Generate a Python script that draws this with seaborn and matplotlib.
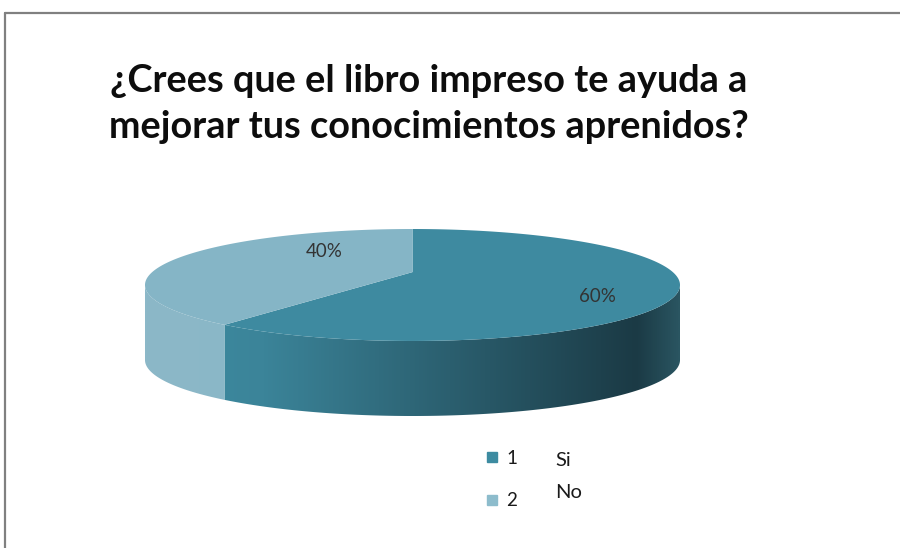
import numpy as np
import matplotlib.pyplot as plt
import matplotlib.colors as mcolors
from matplotlib.patches import Polygon
from matplotlib.lines import Line2D
import seaborn as sns

TITLE = "¿Crees que el libro impreso te ayuda a\nmejorar tus conocimientos aprenidos?"
CATEGORIES = ["1", "2"]
ANSWERS = ["Si", "No"]
PERCENTS = [60, 40]
TOP_COLORS = ["#3e8aa0", "#85b5c6"]
LEGEND_COLORS = ["#3d8ba1", "#8dbccc"]
# side shading for each slice, left -> right across the pie
SIDE_STOPS = [
    [(0.0, "#3e8ca2"), (0.22, "#3b8499"), (0.92, "#1b3a45"), (1.0, "#2a5561")],
    [(0.0, "#8cb8c8"), (1.0, "#82b2c3")],
]
# where Excel put the % labels (pie screen coords, top face = unit ellipse)
LABEL_POS = [(0.69, -0.21), (-0.33, 0.59)]

sns.set_theme(style="white")
plt.rcParams["font.family"] = ["Lato", "DejaVu Sans"]

W, H = 900, 548
fig = plt.figure(figsize=(W / 100, H / 100), dpi=100)
fig.patch.set_facecolor("white")

# pie sits at x 145..680 px, y 229..416 px
ax = fig.add_axes([145 / W, 1 - 416 / H, 535 / W, 187 / H])
DEPTH = 1.34   # side height in units of the top face's vertical radius
TILT = 0.23    # perspective: the pie centre appears pushed back


def project(theta_deg):
    # point on the pie rim -> screen coords (Klein-style perspective boost)
    th = np.radians(theta_deg)
    u, v = np.cos(th), np.sin(th)
    den = 1 + TILT * v
    return u * np.sqrt(1 - TILT ** 2) / den, (v + TILT) / den


cum = np.concatenate([[0], np.cumsum(PERCENTS)]) / np.sum(PERCENTS) * 360
for i in range(len(PERCENTS)):
    t_hi = 90 - cum[i]
    t_lo = 90 - cum[i + 1]
    thetas = np.linspace(t_hi, t_lo, 400)
    xs, ys = project(thetas)

    # top face wedge
    ax.fill(np.r_[0, xs], np.r_[TILT, ys], color=TOP_COLORS[i], lw=0, zorder=2)

    # side wall: the part of the rim in the lower half of the ellipse
    vis = ys <= 0
    if not vis.any():
        continue
    sx, sy = xs[vis], ys[vis]
    order = np.argsort(sx)
    sx, sy = sx[order], sy[order]
    pts = np.concatenate([np.column_stack([sx, sy]),
                          np.column_stack([sx[::-1], sy[::-1] - DEPTH])])
    poly = Polygon(pts, closed=True, facecolor="none", edgecolor="none")
    ax.add_patch(poly)
    cmap = mcolors.LinearSegmentedColormap.from_list(f"side{i}", SIDE_STOPS[i])
    grad = np.linspace(0, 1, 512).reshape(1, -1)
    im = ax.imshow(grad, cmap=cmap, extent=[-1, 1, -1 - DEPTH, 0],
                   aspect="auto", zorder=1, interpolation="bilinear")
    im.set_clip_path(poly)

for i, (x, y) in enumerate(LABEL_POS):
    ax.text(x, y, f"{PERCENTS[i]}%", ha="center", va="center",
            fontsize=13.5, color="#333333", zorder=5)
ax.set_xlim(-1, 1)
ax.set_ylim(-1 - DEPTH, 1)
ax.axis("off")

fig.text(429 / W, 1 - 104 / H, TITLE, ha="center", va="center", fontsize=27.3,
         fontweight="bold", color="#0d0d0d", linespacing=1.4)

handles = [Line2D([], [], marker="s", linestyle="", markersize=7.5,
                  markerfacecolor=c, markeredgecolor=c) for c in LEGEND_COLORS]
fig.legend(handles, CATEGORIES, loc="upper left", bbox_to_anchor=(484 / W, 1 - 450 / H),
           frameon=False, fontsize=13.5, labelspacing=1.35, handlelength=0.8,
           handletextpad=0.4, borderpad=0, borderaxespad=0, labelcolor="#1a1a1a")
fig.text(555 / W, 1 - 461 / H, ANSWERS[0], ha="left", va="center", fontsize=14.5, color="#1a1a1a")
fig.text(555 / W, 1 - 492 / H, ANSWERS[1], ha="left", va="center", fontsize=14.5, color="#1a1a1a")

# chart frame (only top and left edges show in the crop)
fig.add_artist(Line2D([5 / W, 1], [1 - 13 / H, 1 - 13 / H], transform=fig.transFigure,
                      color="#808080", lw=1.6))
fig.add_artist(Line2D([5 / W, 5 / W], [0, 1 - 13 / H], transform=fig.transFigure,
                      color="#808080", lw=1.6))

fig.savefig("out.png", dpi=100, facecolor="white")
